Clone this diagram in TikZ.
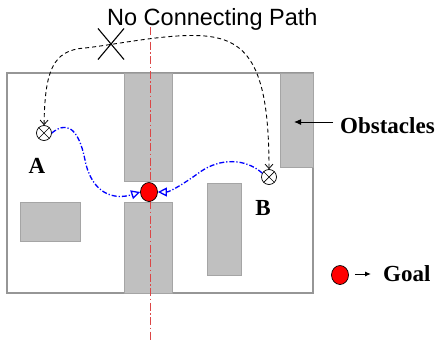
\documentclass[tikz,border=0pt]{standalone}
\usepackage{fontspec}
\setmainfont{Liberation Serif}
\newfontfamily\arialfont{Liberation Sans}
\usetikzlibrary{arrows.meta,shapes.misc,shapes.geometric}
\definecolor{obsfill}{RGB}{192,192,192}
\definecolor{obsline}{RGB}{165,165,165}
\definecolor{frameline}{RGB}{150,150,150}
\definecolor{axisred}{RGB}{220,70,70}
\tikzset{
  obstacle/.style={fill=obsfill, draw=obsline, line width=0.8pt},
  marker/.style={circle, draw, line width=0.7pt, minimum size=15pt, inner sep=0pt, fill=white,
    path picture={\draw[line width=0.7pt] (path picture bounding box.north west) -- (path picture bounding box.south east)
      (path picture bounding box.north east) -- (path picture bounding box.south west);}},
  goalmark/.style={ellipse, draw, fill=red, line width=0.7pt, minimum width=17pt, minimum height=19pt, inner sep=0pt},
  lbl/.style={font=\bfseries\fontsize{23}{23}\selectfont, inner sep=0pt},
  blueroute/.style={blue, line width=1.3pt, dash pattern=on 5pt off 2pt on 1.2pt off 2pt,
    -{Triangle[open, length=9pt, width=9pt, line width=1.3pt]}},
  noroute/.style={black, line width=0.9pt, dash pattern=on 4pt off 3pt,
    {Straight Barb[length=4.5pt, width=8pt, line width=0.8pt]}-{Straight Barb[length=4.5pt, width=8pt, line width=0.8pt]}},
}
\begin{document}
\begin{tikzpicture}[x=1pt, y=-1pt]
\useasboundingbox (0,0) rectangle (438,343);
% frame
\draw[frameline, line width=2pt] (7,73) rectangle (313,293);
% obstacles
\path[obstacle] (124,73) rectangle (172,181);
\path[obstacle] (124,202) rectangle (172,293);
\path[obstacle] (20,202) rectangle (80,241);
\path[obstacle] (207,183) rectangle (241,275);
\path[obstacle] (280,73) rectangle (313,167);
% red axis
\coordinate (ax1) at (150,27);
\coordinate (ax2) at (150,340);
\draw[axisred, line width=1pt, dash pattern=on 8pt off 2.5pt on 1.5pt off 2.5pt] (ax1) -- (ax2);
% markers
\node[marker] (mA) at (44,133) {};
\node[marker] (mB) at (269,177) {};
\node[goalmark] (goal) at (149,192) {};
% labels
\node[lbl, anchor=base] (lA) at (37,173) {A};
\node[lbl, anchor=base] (lB) at (263,215) {B};
\node[font=\arialfont\fontsize{23.5}{23.5}\selectfont, anchor=base west, inner sep=0pt] (title) at (107,25) {No Connecting Path};
% no connecting path
\node[cross out, draw, line width=1.1pt, minimum width=25pt, minimum height=30pt, inner sep=0pt] (cross) at (111,44) {};
\coordinate (p1) at (85,48);
\coordinate (p2) at (205,36);
\draw[noroute] (mA.north) .. controls (45,72) and (52,50) .. (p1)
  .. controls (120,44) and (170,33) .. (p2)
  .. controls (250,40) and (269,70) .. (mB.north);
% blue routes
\coordinate (q1) at (85,160);
\draw[blueroute] (mA.east) .. controls (65,122) and (78,125) .. (q1)
  .. controls (92,195) and (115,200) .. (goal.west);
\coordinate (q2) at (200,172);
\draw[blueroute] (mB.150) .. controls (245,158) and (220,158) .. (q2)
  .. controls (185,183) and (170,192) .. (goal.east);
% legend: obstacles
\node[lbl, anchor=base west] (lObs) at (340,133) {Obstacles};
\coordinate (obsTip) at (294,122);
\draw[line width=1pt, -{Latex[length=7pt, width=6pt]}] (lObs.west |- 0,122) ++(-7,0) coordinate (obsStart) -- (obsTip);
% legend: goal
\node[goalmark] (gLeg) at (340,275) {};
\node[lbl, anchor=base west] (lGoal) at (383,281) {Goal};
\coordinate (gArrEnd) at (371,274);
\draw[line width=1pt, -{Latex[length=6pt, width=5pt]}] (gLeg.east) ++(6,-1) coordinate (gArrStart) -- (gArrEnd);
\end{tikzpicture}
\end{document}
